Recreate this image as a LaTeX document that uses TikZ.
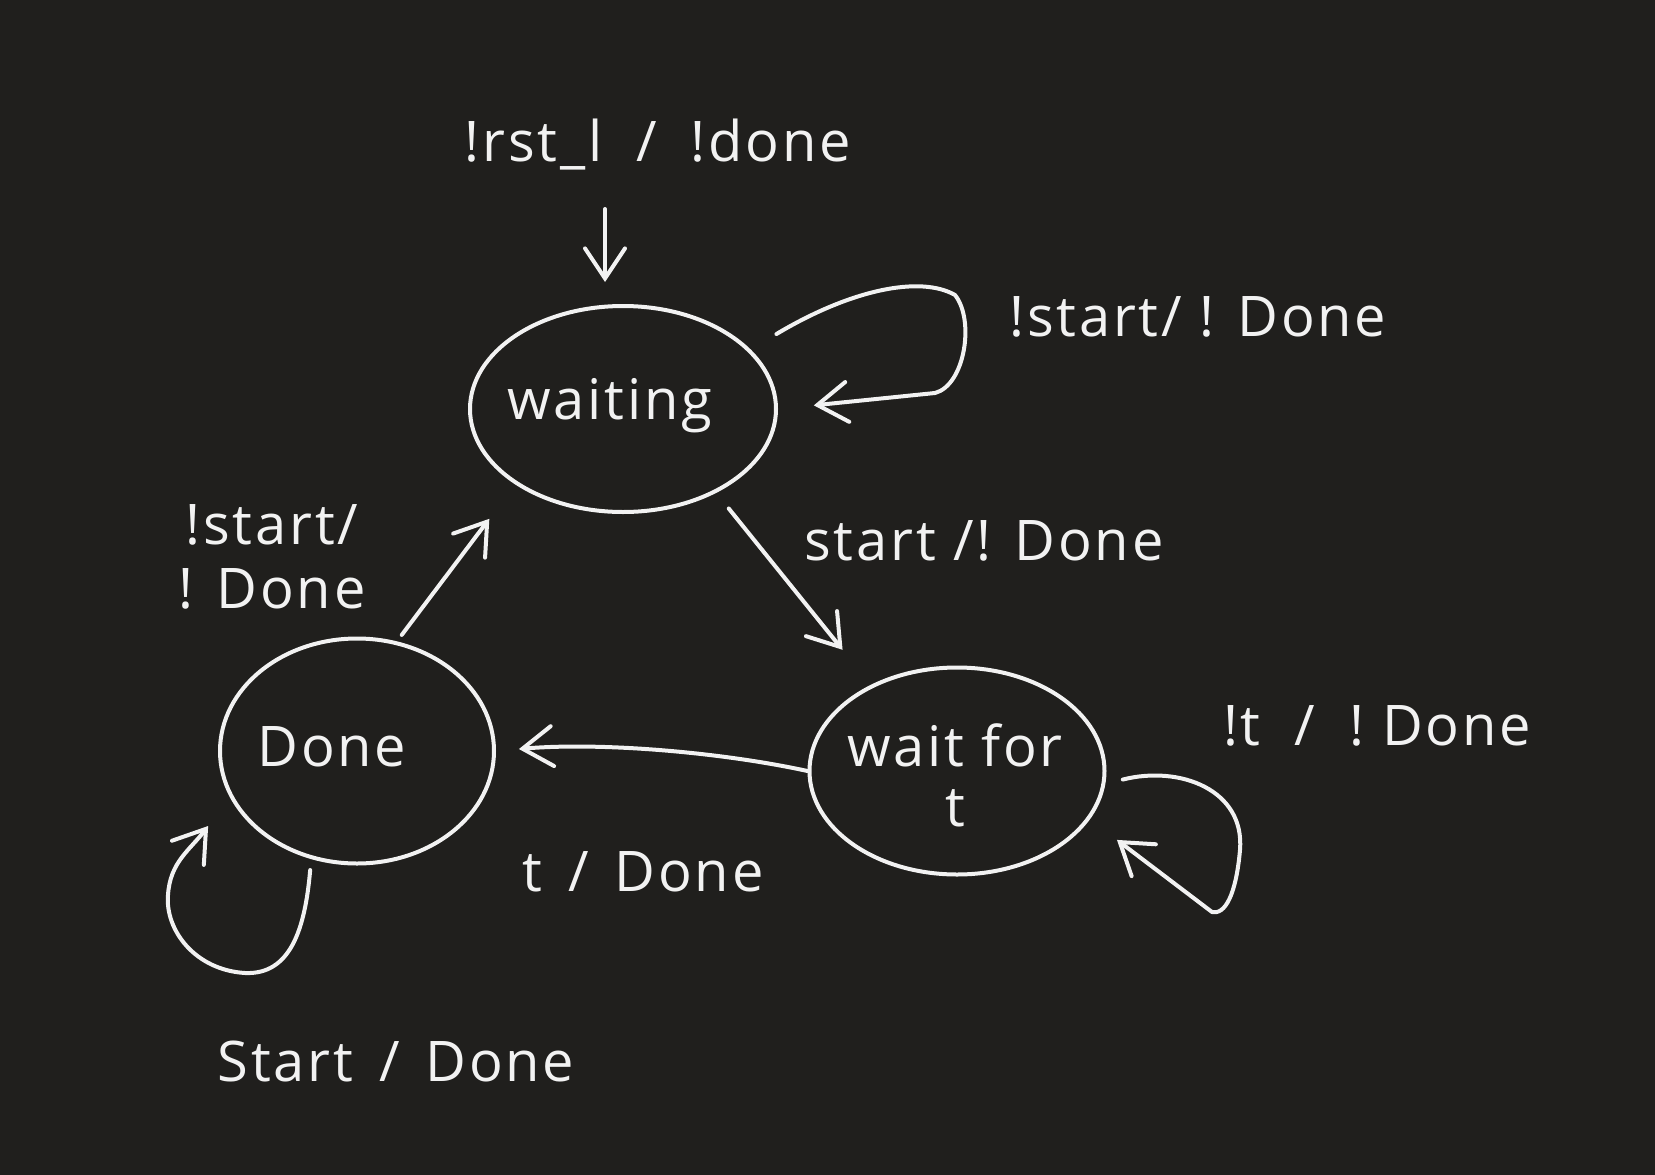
\documentclass[tikz,border=0pt]{standalone}
\usepackage{fontspec}
\setmainfont{Open Sans}[LetterSpace=5]
\usetikzlibrary{arrows.meta,shapes.geometric}
\definecolor{bg}{HTML}{201F1D}
\definecolor{ink}{HTML}{F2F2F2}
\tikzset{
  state/.style={ellipse, draw=ink, line width=4pt, text=ink, inner sep=0pt},
  lbl/.style={text=ink, font=\fontsize{56}{64}\selectfont, inner sep=0pt, align=center},
  arr/.style={draw=ink, line width=4pt, line cap=round, line join=round,
    -{Straight Barb[length=30pt,width=40pt,line cap=round]}},
}
\begin{document}
\begin{tikzpicture}[x=1pt,y=-1pt]
\fill[bg] (0,0) rectangle (1655,1175);
\useasboundingbox (0,0) rectangle (1655,1175);

% states
\node[state, minimum width=306pt, minimum height=206pt] (waiting) at (623,409) {};
\node[lbl] (waitingtxt) at (610,406) {waiting};
\node[state, minimum width=274pt, minimum height=225pt] (done) at (357,751) {};
\node[lbl] (donetxt) at (332,747) {Done};
\node[state, minimum width=295pt, minimum height=207pt] (waitfor) at (957,771) {};
\node[lbl] (waitfortxt) at (955,775) {wait for\\[-4pt]t};

% initial transition
\node[lbl] (initlbl) at (658,145) {!rst\_l\hspace{34pt}/\hspace{34pt}!done};
\coordinate (init) at (605,209);
\draw[arr, shorten >=22pt] (init) -- (init |- waiting.north);

% waiting self loop
\node[lbl] (l1) at (1198,317) {!start/ ! Done};
\draw[arr, shorten <=30pt, shorten >=36pt] (waiting.25)
  .. controls (850,290) and (920,275) .. (955,295)
  .. controls (975,320) and (965,385) .. (935,393) -- (waiting.east);

% waiting -> wait for t
\node[lbl] (l2) at (984,541) {start /! Done};
\draw[arr, shorten <=20pt, shorten >=45pt] (waiting.-42) -- (waitfor.135);

% Done -> waiting
\node[lbl] (l3) at (272,557) {!start/\\! Done};
\draw[arr, shorten <=8pt, shorten >=43pt] (done.70) -- (waiting.215);

% wait for t -> Done
\node[lbl] (l4) at (643,872) {t\hspace{26pt}/\hspace{26pt}Done};
\draw[arr, shorten >=23pt] (waitfor.west)
  .. controls (720,752) and (600,742) .. (done.east);

% wait for t self loop
\node[lbl] (l5) at (1377,726) {!t\hspace{34pt}/\hspace{34pt}!\hspace{18pt}Done};
\draw[arr, shorten <=18pt, shorten >=34pt] (waitfor.-5)
  .. controls (1180,765) and (1245,790) .. (1240,850)
  .. controls (1236,895) and (1225,915) .. (1212,912) -- (waitfor.-20);

% Done self loop
\node[lbl] (l6) at (396,1061) {Start\hspace{26pt}/\hspace{26pt}Done};
\draw[arr, shorten <=11pt, shorten >=36pt] (done.-113)
  .. controls (305,930) and (290,975) .. (245,973)
  .. controls (195,970) and (165,930) .. (168,895)
  .. controls (170,862) and (190,850) .. (done.-160);
\end{tikzpicture}
\end{document}
